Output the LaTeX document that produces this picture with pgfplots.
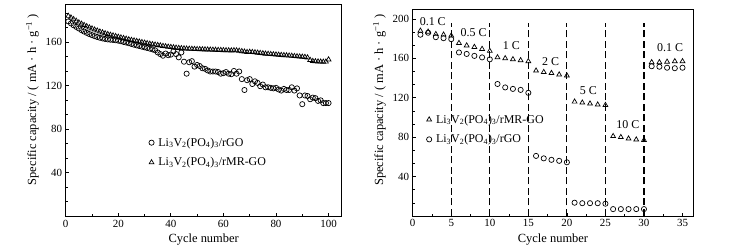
\documentclass[border=0pt]{standalone}
\usepackage{fontspec}
\setmainfont{Liberation Serif}
\usepackage{pgfplots}
\pgfplotsset{compat=1.18}
\usepackage{pgfplotstable}

\pgfplotstableread{
c tri cir
1 184 179
2 182.5 177.2
3 181 175.5
4 179.5 174
5 178 172.5
6 176.8 171
7 175.6 169.7
8 174.5 168.5
9 173.4 167.4
10 172.4 166.4
11 171.4 165.5
12 170.5 164.7
13 169.6 164
14 168.8 163.4
15 168 162.9
16 167.3 162.5
17 166.6 162.2
18 166 162
19 165.4 161.7
20 164.8 161.3
21 164.2 160.8
22 163.6 160.2
23 163 159.6
24 162.4 159
25 161.9 158.3
26 161.4 157.6
27 160.9 157
28 160.4 156.4
29 159.9 155.8
30 159.4 155.2
31 158.9 154.6
32 158.4 154
33 158 153.3
34 157.6 152.5
35 157.2 150.5
36 156.8 149
37 156.4 147.5
38 156 149.5
39 155.7 148
40 155.4 148.5
41 155.1 151.5
42 154.8 149
43 154.5 146
44 154.3 150.5
45 154.1 142
46 153.9 131
47 153.8 141.5
48 153.7 142.5
49 153.6 137.5
50 153.5 139
51 153.4 138
52 153.3 136
53 153.2 135.5
54 153.1 134
55 153 133
56 152.9 133
57 152.8 133
58 152.7 132.5
59 152.6 131
60 152.5 131.5
61 152.4 132.5
62 152.3 131
63 152.2 130.5
64 152.4 133.5
65 152.3 131
66 152 133
67 151.6 126
68 151.2 116
69 150.8 125
70 151 126
71 150.8 121.5
72 150.5 124
73 150.2 122.5
74 149.9 119.5
75 149.6 121
76 149.3 118.5
77 149.1 118.5
78 148.9 118
79 148.7 117.5
80 148.5 118
81 148.3 116.5
82 148.1 115.5
83 147.9 117
84 147.7 116
85 147.5 116
86 147.3 118.5
87 147.1 115.5
88 146.9 117.5
89 146.7 111
90 146.5 103
91 146.3 111
92 145.8 110.5
93 143.5 107.5
94 142.5 109
95 142.3 108.5
96 142.1 106
97 142 106.5
98 141.9 104
99 142 104
100 144 104
}\cycdata

\pgfplotstableread{
c tri cir
1 188 184
2 187 186
3 184.5 181.5
4 184 180.5
5 183 179.5
6 175.5 166
7 173 164.5
8 171.5 162.5
9 169.5 161
10 167.5 159
11 161 134
12 160 130.5
13 159 129
14 158 128
15 157 125
16 147.5 61
17 146 58.5
18 145 57
19 143.5 56
20 142.5 54.5
21 116 13.5
22 115 13
23 114 13
24 113 13
25 112.5 12.5
26 81 7
27 80 7
28 78.5 7
29 77.5 7
30 77 7
31 156 152
32 156 151.5
33 156.5 150.5
34 157 150
35 157 150.5
}\ratedata

\pgfplotsset{
  common/.style={
    scale only axis,
    axis line style={line width=0.8bp},
    tick pos=left, tick align=inside,
    major tick length=3.5bp, minor tick length=2bp,
    every tick/.style={line width=0.7bp, black},
    tick label style={font=\fontsize{11}{13}\selectfont},
    label style={font=\fontsize{12.5}{14}\selectfont},
    /pgf/number format/assume math mode=true,
    legend cell align=left,
    legend style={draw=none, fill=none, font=\fontsize{12}{14}\selectfont, row sep=6bp, inner sep=1bp},
    ylabel={Specific capacity / ( mA · h · g\textsuperscript{−1} )},
    xlabel={Cycle number},
  },
  mleg/.style={legend image code/.code={\draw[#1] plot coordinates {(0.15cm,0cm)};\path (0cm,0cm) (0.31cm,0cm);}},
}

\begin{document}
\begin{tikzpicture}
\useasboundingbox (0,0) rectangle (731bp,249bp);
\begin{axis}[common,
  at={(65.7bp,32.7bp)}, anchor=south west,
  width=276bp, height=212.3bp,
  xmin=0, xmax=105, ymin=0, ymax=195,
  xtick={0,20,...,100}, minor xtick={10,30,...,90},
  ytick={0,40,...,160}, yticklabels={,40,80,120,160},
  minor ytick={13.333,26.667,53.333,66.667,93.333,106.667,133.333,146.667,173.333,186.667},
  ylabel style={at={(ticklabel cs:0.55)}},
  legend style={at={(0.29,0.385)}, anchor=north west},
]
\addplot[only marks, mark=o, mark size=2.6bp, line width=0.7bp, black, mleg] table[x=c, y=cir] {\cycdata};
\addlegendentry{Li\textsubscript{3}V\textsubscript{2}(PO\textsubscript{4})\textsubscript{3}/rGO}
\addplot[only marks, mark=triangle, mark size=2.8bp, line width=0.7bp, black, mleg] table[x=c, y=tri] {\cycdata};
\addlegendentry{Li\textsubscript{3}V\textsubscript{2}(PO\textsubscript{4})\textsubscript{3}/rMR-GO}
\end{axis}

\begin{axis}[common,
  at={(412.7bp,33bp)}, anchor=south west,
  width=280.6bp, height=206.9bp,
  xmin=0, xmax=36.4, ymin=0, ymax=210,
  xtick={0,5,...,35}, minor xtick={2.5,7.5,...,32.5},
  ytick={0,40,...,200}, yticklabels={,40,80,120,160,200},
  minor ytick={13.333,26.667,53.333,66.667,93.333,106.667,133.333,146.667,173.333,186.667},
  ylabel style={at={(ticklabel cs:0.56)}},
  legend style={at={(0.038,0.505)}, anchor=north west},
]
\addplot[black, line width=1.2bp, dash pattern=on 7bp off 3.5bp, forget plot] coordinates {(5,0) (5,196)};
\addplot[black, line width=1.2bp, dash pattern=on 7bp off 3.5bp, forget plot] coordinates {(10,0) (10,196)};
\addplot[black, line width=1.2bp, dash pattern=on 7bp off 3.5bp, forget plot] coordinates {(15,0) (15,196)};
\addplot[black, line width=1.2bp, dash pattern=on 7bp off 3.5bp, forget plot] coordinates {(20,0) (20,196)};
\addplot[black, line width=1.2bp, dash pattern=on 7bp off 3.5bp, forget plot] coordinates {(25,0) (25,196)};
\addplot[black, line width=1.2bp, dash pattern=on 7bp off 3.5bp, forget plot] coordinates {(30,0) (30,196)};
\addplot[only marks, mark=triangle, mark size=2.8bp, line width=0.7bp, black, mleg] table[x=c, y=tri] {\ratedata};
\addlegendentry{Li\textsubscript{3}V\textsubscript{2}(PO\textsubscript{4})\textsubscript{3}/rMR-GO}
\addplot[only marks, mark=o, mark size=2.6bp, line width=0.7bp, black, mleg] table[x=c, y=cir] {\ratedata};
\addlegendentry{Li\textsubscript{3}V\textsubscript{2}(PO\textsubscript{4})\textsubscript{3}/rGO}
\begin{scope}[font=\fontsize{12}{14}\selectfont]
\node at (axis cs:2.6,197) {0.1 C};
\node at (axis cs:7.9,186) {0.5 C};
\node at (axis cs:12.8,173) {1 C};
\node at (axis cs:17.9,157) {2 C};
\node at (axis cs:22.8,127.5) {5 C};
\node at (axis cs:27.9,92.6) {10 C};
\node at (axis cs:33.4,171.2) {0.1 C};
\end{scope}
\end{axis}
\end{tikzpicture}
\end{document}
